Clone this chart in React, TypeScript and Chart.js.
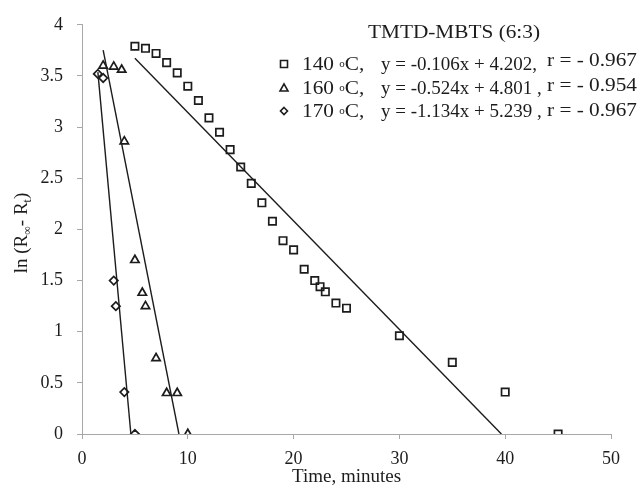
import React, { useEffect, useRef } from "react";
import { Chart, registerables } from "chart.js";

Chart.register(...registerables);

// ---- data ----
const time140 = [5, 6, 7, 8, 9, 10, 11, 12, 13, 14, 15, 16, 17, 18, 19, 20, 21, 22, 22.5, 23, 24, 25, 30, 35, 40, 45];
const ln140 = [3.79, 3.77, 3.72, 3.63, 3.53, 3.4, 3.26, 3.09, 2.95, 2.78, 2.61, 2.45, 2.26, 2.08, 1.89, 1.8, 1.61, 1.5, 1.44, 1.39, 1.28, 1.23, 0.96, 0.7, 0.41, 0.0];
const time160 = [2, 3, 3.75, 4, 5, 5.7, 6, 7, 8, 9, 10];
const ln160 = [3.6, 3.59, 3.56, 2.86, 1.7, 1.38, 1.25, 0.74, 0.4, 0.4, 0.0];
const time170 = [1.5, 2, 3, 3.2, 4, 5];
const ln170 = [3.52, 3.48, 1.5, 1.25, 0.41, 0.0];

const fitSlopes = [-0.106, -0.524, -1.134];
const fitIntercepts = [4.202, 4.801, 5.239];
const fitStartX = [5, 2, 1.5];

const temperatures = ["140", "160", "170"];
const equations = ["y = -0.106x + 4.202,", "y = -0.524x + 4.801 ,", "y = -1.134x + 5.239 ,"];
const rValues = ["r = - 0.967", "r = - 0.954", "r = - 0.967"];
const legendTitle = "TMTD-MBTS (6:3)";
const xAxisTitle = "Time, minutes";

const xMin = 0, xMax = 50, xStep = 10;
const yMin = 0, yMax = 4, yStep = 0.5;

// ---- styles ----
const FONT = "'Liberation Serif', 'Times New Roman', serif";
const INK = "#1c1c1c";
const AXIS = "#a8a8a8";
const markerStyles = ["rect", "triangle", "rectRot"];
const markerRadius = [5.2, 4.8, 4.2];

function fitLine(i: number) {
  const m = fitSlopes[i];
  const b = fitIntercepts[i];
  const x0 = fitStartX[i];
  const x1 = -b / m;
  return [
    { x: x0, y: m * x0 + b },
    { x: x1, y: 0 },
  ];
}

function toPoints(xs: number[], ys: number[]) {
  return xs.map((x, i) => ({ x, y: ys[i] }));
}

function drawStretched(ctx: CanvasRenderingContext2D, text: string, x: number, y: number, size: number, sx: number, align: "left" | "right" | "center") {
  ctx.save();
  ctx.font = `${size}px ${FONT}`;
  ctx.textBaseline = "alphabetic";
  const w = ctx.measureText(text).width * sx;
  let left = x;
  if (align === "right") left = x - w;
  if (align === "center") left = x - w / 2;
  ctx.translate(left, y);
  ctx.scale(sx, 1);
  ctx.textAlign = "left";
  ctx.fillText(text, 0, 0);
  ctx.restore();
  return w;
}

function drawMarker(ctx: CanvasRenderingContext2D, kind: number, x: number, y: number) {
  ctx.save();
  ctx.strokeStyle = INK;
  ctx.lineWidth = 1.6;
  ctx.beginPath();
  if (kind === 0) {
    ctx.rect(x - 3.5, y - 3.5, 7, 7);
  } else if (kind === 1) {
    ctx.moveTo(x, y - 4.2);
    ctx.lineTo(x + 4, y + 3);
    ctx.lineTo(x - 4, y + 3);
    ctx.closePath();
  } else {
    ctx.moveTo(x, y - 3.5);
    ctx.lineTo(x + 3.5, y);
    ctx.lineTo(x, y + 3.5);
    ctx.lineTo(x - 3.5, y);
    ctx.closePath();
  }
  ctx.stroke();
  ctx.restore();
}

const overlayPlugin = {
  id: "overlayText",
  afterDraw(chart: any) {
    const ctx: CanvasRenderingContext2D = chart.ctx;
    ctx.save();
    ctx.fillStyle = INK;

    // legend title
    drawStretched(ctx, legendTitle, 454, 38, 19, 1.12, "center");

    const rowBase = [70, 94, 117];
    const rRaise = [4, 3, 1];
    for (let i = 0; i < 3; i++) {
      const yb = rowBase[i];
      drawMarker(ctx, i, 284, yb - 6);
      let x = 302;
      x += drawStretched(ctx, temperatures[i] + " ", x, yb, 19, 1.12, "left");
      x += drawStretched(ctx, "o", x, yb - 3, 11, 1.0, "left");
      drawStretched(ctx, "C,", x, yb, 19, 1.12, "left");
      drawStretched(ctx, equations[i], 381, yb, 19, 1.0, "left");
      drawStretched(ctx, rValues[i], 637, yb - rRaise[i], 19, 1.12, "right");
    }

    // y-axis title with subscripts, rotated
    ctx.translate(27, 233);
    ctx.rotate(-Math.PI / 2);
    const parts: [string, number, number][] = [
      ["ln (R", 19, 0],
      ["\u221E", 12, 4],
      ["- R", 19, 0],
      ["t", 12, 4],
      [")", 19, 0],
    ];
    let total = 0;
    for (const [t, s] of parts) {
      ctx.font = `${s}px ${FONT}`;
      total += ctx.measureText(t).width;
    }
    let px = -total / 2;
    ctx.textBaseline = "alphabetic";
    ctx.textAlign = "left";
    for (const [t, s, dy] of parts) {
      ctx.font = `${s}px ${FONT}`;
      ctx.fillText(t, px, dy);
      px += ctx.measureText(t).width;
    }
    ctx.restore();
  },
};

export default function App() {
  const ref = useRef<HTMLCanvasElement | null>(null);

  useEffect(() => {
    document.body.style.margin = "0";
    const canvas = ref.current;
    if (!canvas) return;

    const scatterSets = [
      toPoints(time140, ln140),
      toPoints(time160, ln160),
      toPoints(time170, ln170),
    ].map((data, i) => ({
      type: "scatter" as const,
      label: temperatures[i] + " °C",
      data,
      pointStyle: markerStyles[i],
      pointRadius: markerRadius[i],
      pointBackgroundColor: "rgba(255,255,255,0)",
      pointBorderColor: INK,
      pointBorderWidth: 1.7,
      showLine: false,
    }));

    const lineSets = [0, 1, 2].map((i) => ({
      type: "line" as const,
      label: "fit " + temperatures[i],
      data: fitLine(i),
      borderColor: INK,
      borderWidth: 1.4,
      pointRadius: 0,
      fill: false,
      tension: 0,
    }));

    const chart = new Chart(canvas, {
      type: "scatter",
      data: { datasets: [...lineSets, ...scatterSets] as any },
      options: {
        responsive: false,
        animation: false,
        layout: { padding: { left: 0, right: 30, top: 21, bottom: 0 } },
        plugins: {
          legend: { display: false },
          tooltip: { enabled: false },
        },
        scales: {
          x: {
            type: "linear",
            min: xMin,
            max: xMax,
            ticks: {
              stepSize: xStep,
              color: INK,
              font: { family: FONT, size: 18 },
              padding: 9,
              callback: (v: any) => String(Number(v)),
            },
            grid: {
              drawOnChartArea: false,
              drawTicks: true,
              tickLength: 5,
              color: AXIS,
            },
            border: { display: true, color: AXIS, width: 1 },
            title: {
              display: true,
              text: xAxisTitle,
              color: INK,
              font: { family: FONT, size: 19 },
              padding: { top: 0, bottom: 5 },
            },
            afterFit: (scale: any) => {
              scale.height = 59;
            },
          },
          y: {
            type: "linear",
            min: yMin,
            max: yMax,
            ticks: {
              stepSize: yStep,
              color: INK,
              font: { family: FONT, size: 18 },
              padding: 14,
              callback: (v: any) => String(Number(v)),
            },
            grid: {
              drawOnChartArea: false,
              drawTicks: true,
              tickLength: 5,
              color: AXIS,
            },
            border: { display: true, color: AXIS, width: 1 },
            afterFit: (scale: any) => {
              scale.width = 82;
            },
          },
        },
      },
      plugins: [overlayPlugin],
    });

    return () => chart.destroy();
  }, []);

  return (
    <div style={{ width: 641, height: 493 }}>
      <canvas ref={ref} width={641} height={493} style={{ display: "block" }} />
    </div>
  );
}
